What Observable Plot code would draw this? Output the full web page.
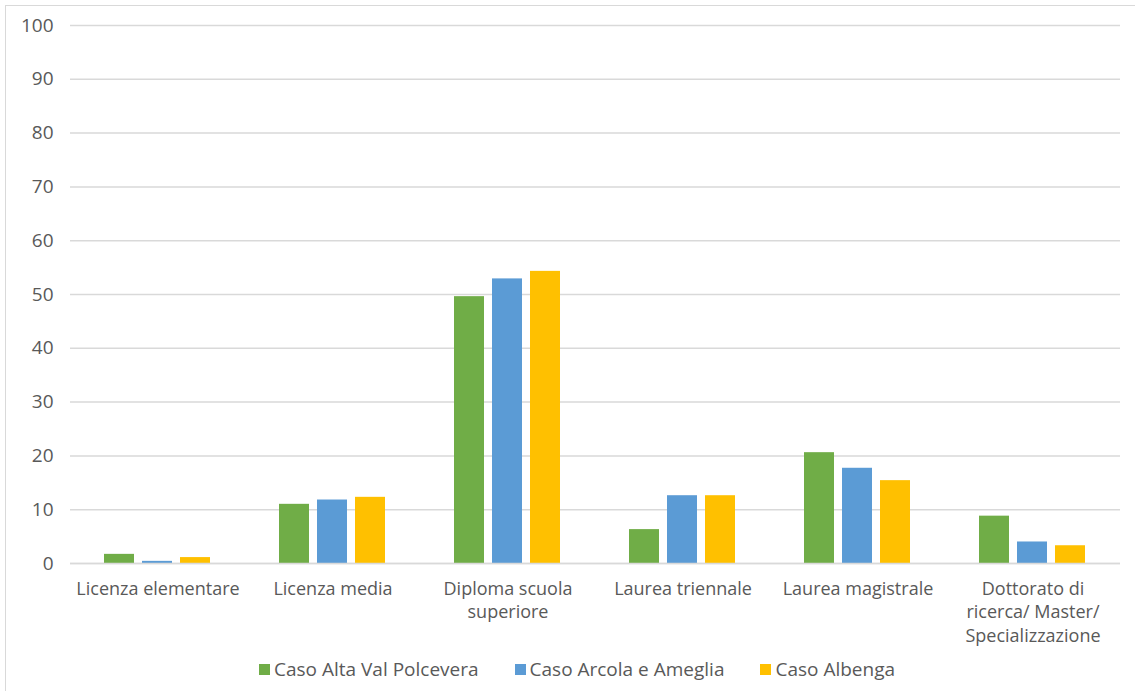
<!DOCTYPE html>
<html>
<head>
<meta charset="utf-8">
<script src="https://cdn.jsdelivr.net/npm/d3@7"></script>
<script src="https://cdn.jsdelivr.net/npm/@observablehq/plot@0.6"></script>
<style>
  body { margin: 0; background: #fff; font-family: "Open Sans", "Noto Sans", sans-serif; }
  #wrap { position: relative; width: 1135px; height: 691px; overflow: hidden; }
  #frame { position: absolute; left: 5px; top: 5px; width: 1200px; height: 800px; border: 1.5px solid #d9d9d9; box-sizing: border-box; }
  #chart { position: absolute; left: 0; top: 0; }
  #legend { position: absolute; top: 656px; left: 259px; display: flex; font-size: 19px; color: #595959; line-height: 26px; }
  .item { display: flex; align-items: center; margin-right: 36px; }
  .sw { width: 11px; height: 11px; margin-right: 4px; }
</style>
</head>
<body>
<div id="wrap">
  <div id="frame"></div>
  <div id="chart"></div>
  <div id="legend"></div>
</div>
<script>
// Education level categories and their wrapped axis labels
const categories = [
  "Licenza elementare",
  "Licenza media",
  "Diploma scuola superiore",
  "Laurea triennale",
  "Laurea magistrale",
  "Dottorato di ricerca/ Master/ Specializzazione"
];
const categoryLabels = [
  "Licenza elementare",
  "Licenza media",
  "Diploma scuola\nsuperiore",
  "Laurea triennale",
  "Laurea magistrale",
  "Dottorato di\nricerca/ Master/\nSpecializzazione"
];

// Series (case studies) and colours
const series = ["Caso Alta Val Polcevera", "Caso Arcola e Ameglia", "Caso Albenga"];
const colors = ["#70AD47", "#5B9BD5", "#FFC000"];

// Percentages per series, in category order
const altaValPolcevera = [1.7, 11.0, 49.6, 6.3, 20.6, 8.8];
const arcolaAmeglia    = [0.4, 11.8, 52.9, 12.6, 17.7, 4.0];
const albenga          = [1.1, 12.3, 54.3, 12.6, 15.4, 3.3];

const yTicks = [0, 10, 20, 30, 40, 50, 60, 70, 80, 90, 100];

const valuesBySeries = [altaValPolcevera, arcolaAmeglia, albenga];
const rows = [];
categories.forEach((c, i) => {
  series.forEach((s, j) => rows.push({category: c, series: s, value: valuesBySeries[j][i]}));
});

const labelOf = new Map(categories.map((c, i) => [c, categoryLabels[i]]));

const chart = Plot.plot({
  width: 1135,
  height: 655,
  marginLeft: 69,
  marginRight: 14,
  marginTop: 25,
  marginBottom: 92,
  style: { fontFamily: "'Open Sans', 'Noto Sans', sans-serif", fontSize: "19px", color: "#595959", background: "transparent" },
  fx: { domain: categories, padding: 0, label: null },
  x: { domain: series, paddingInner: 0.2, paddingOuter: 0.85, axis: null },
  y: { domain: [0, 100], label: null },
  color: { domain: series, range: colors },
  marks: [
    Plot.gridY(yTicks, { stroke: "#d9d9d9", strokeOpacity: 1, strokeWidth: 1.5 }),
    Plot.axisY(yTicks, { tickSize: 0, tickPadding: 17, fontSize: 19, fill: "#595959", label: null }),
    Plot.axisFx({ anchor: "bottom", tickSize: 0, tickPadding: 14, fontSize: 18, fill: "#595959",
      lineHeight: 1.33, tickFormat: (d) => labelOf.get(d), label: null }),
    Plot.barY(rows, { fx: "category", x: "series", y: "value", fill: "series" }),
    Plot.ruleY([0], { stroke: "#d9d9d9", strokeWidth: 1.5 })
  ]
});
document.getElementById("chart").appendChild(chart);

// Legend below the chart
const legend = document.getElementById("legend");
series.forEach((s, i) => {
  const item = document.createElement("div");
  item.className = "item";
  const sw = document.createElement("span");
  sw.className = "sw";
  sw.style.background = colors[i];
  const t = document.createElement("span");
  t.textContent = s;
  item.appendChild(sw);
  item.appendChild(t);
  legend.appendChild(item);
});
</script>
</body>
</html>
